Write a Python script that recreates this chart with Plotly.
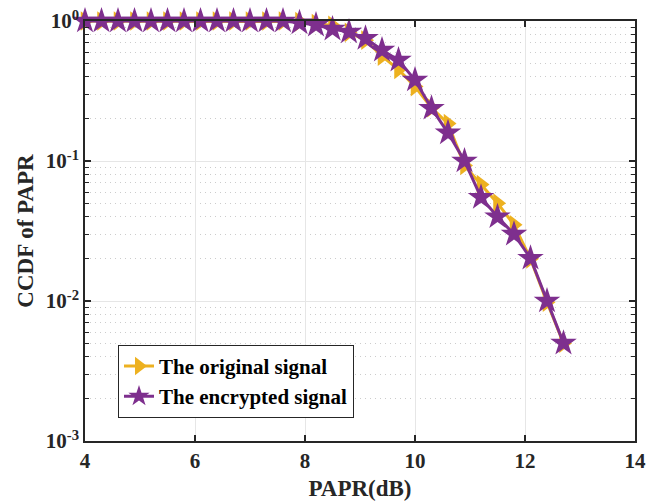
import plotly.graph_objects as go

papr_db = [4.0, 4.3, 4.6, 4.9, 5.2, 5.5, 5.8, 6.1, 6.4, 6.7, 7.0, 7.3, 7.6, 7.9,
           8.2, 8.5, 8.8, 9.1, 9.4, 9.7, 10.0, 10.3, 10.6, 10.9, 11.2, 11.5,
           11.8, 12.1, 12.4, 12.7]

ccdf_original = [1.0, 1.0, 1.0, 1.0, 1.0, 1.0, 1.0, 1.0, 1.0, 1.0, 1.0, 1.0, 1.0, 0.99,
                 0.96, 0.93, 0.83, 0.73, 0.56, 0.45, 0.34, 0.24, 0.185, 0.093, 0.068,
                 0.05, 0.035, 0.02, 0.0098, 0.005]

ccdf_encrypted = [1.0, 1.0, 1.0, 1.0, 1.0, 1.0, 1.0, 1.0, 1.0, 1.0, 1.0, 1.0, 1.0, 0.97,
                  0.935, 0.875, 0.835, 0.752, 0.62, 0.526, 0.379, 0.238, 0.159, 0.1,
                  0.055, 0.04, 0.03, 0.0202, 0.01, 0.005]

series_names = ["The original signal", "The encrypted signal"]
x_ticks = [4, 6, 8, 10, 12, 14]
y_ticks = [1, 0.1, 0.01, 0.001]
y_tick_text = ["10<sup>0</sup>", "10<sup>-1</sup>", "10<sup>-2</sup>", "10<sup>-3</sup>"]

ORANGE = "#EDB120"
PURPLE = "#7E2F8E"
FONT = "Liberation Serif"
DARK = "#262626"

fig = go.Figure()
fig.add_trace(go.Scatter(
    x=papr_db, y=ccdf_original, name=series_names[0], mode="lines+markers",
    line=dict(color=ORANGE, width=3),
    marker=dict(symbol="triangle-right", size=17, color=ORANGE),
    cliponaxis=False,
))
fig.add_trace(go.Scatter(
    x=papr_db, y=ccdf_encrypted, name=series_names[1], mode="lines+markers",
    line=dict(color=PURPLE, width=3),
    marker=dict(symbol="star", size=20, color=PURPLE),
    cliponaxis=False,
))

fig.update_layout(
    width=661, height=502,
    margin=dict(l=85, r=26, t=21, b=61),
    paper_bgcolor="white", plot_bgcolor="white",
    font=dict(family=FONT, size=20, color=DARK),
    showlegend=True,
    legend=dict(
        x=0.06, y=0.229, xanchor="left", yanchor="top",
        bgcolor="white", bordercolor=DARK, borderwidth=1,
        font=dict(family=FONT, size=21, color="black", weight="bold"),
        tracegroupgap=0, itemwidth=30,
    ),
)

fig.update_xaxes(
    range=[4, 14], tickvals=x_ticks, ticktext=[str(v) for v in x_ticks],
    showline=True, linecolor=DARK, linewidth=1.5, mirror="ticks",
    ticks="inside", ticklen=6, tickcolor=DARK, tickwidth=1.5,
    showgrid=True, gridcolor="#e6e6e6", gridwidth=1,
    zeroline=False, automargin=False,
    tickfont=dict(family=FONT, size=21, color=DARK, weight="bold"),
    title=dict(text="PAPR(dB)", font=dict(family=FONT, size=23, color=DARK, weight="bold"), standoff=8),
)
fig.update_yaxes(
    type="log", range=[-3, 0], tickvals=y_ticks, ticktext=y_tick_text,
    showline=True, linecolor=DARK, linewidth=1.5, mirror="ticks",
    ticks="inside", ticklen=6, tickcolor=DARK, tickwidth=1.5,
    showgrid=True, gridcolor="#e6e6e6", gridwidth=1,
    zeroline=False, automargin=False,
    minor=dict(ticks="inside", ticklen=4, tickcolor=DARK, tickwidth=1,
               showgrid=True, gridcolor="#cccccc", griddash="1px,4px", gridwidth=1,
               tickvals=[m * 10 ** e for e in (-3, -2, -1) for m in range(2, 10)]),
    tickfont=dict(family=FONT, size=21, color=DARK, weight="bold"),
    title=dict(text="CCDF of PAPR", font=dict(family=FONT, size=23, color=DARK, weight="bold"), standoff=6),
)

fig.write_html("out.html")
